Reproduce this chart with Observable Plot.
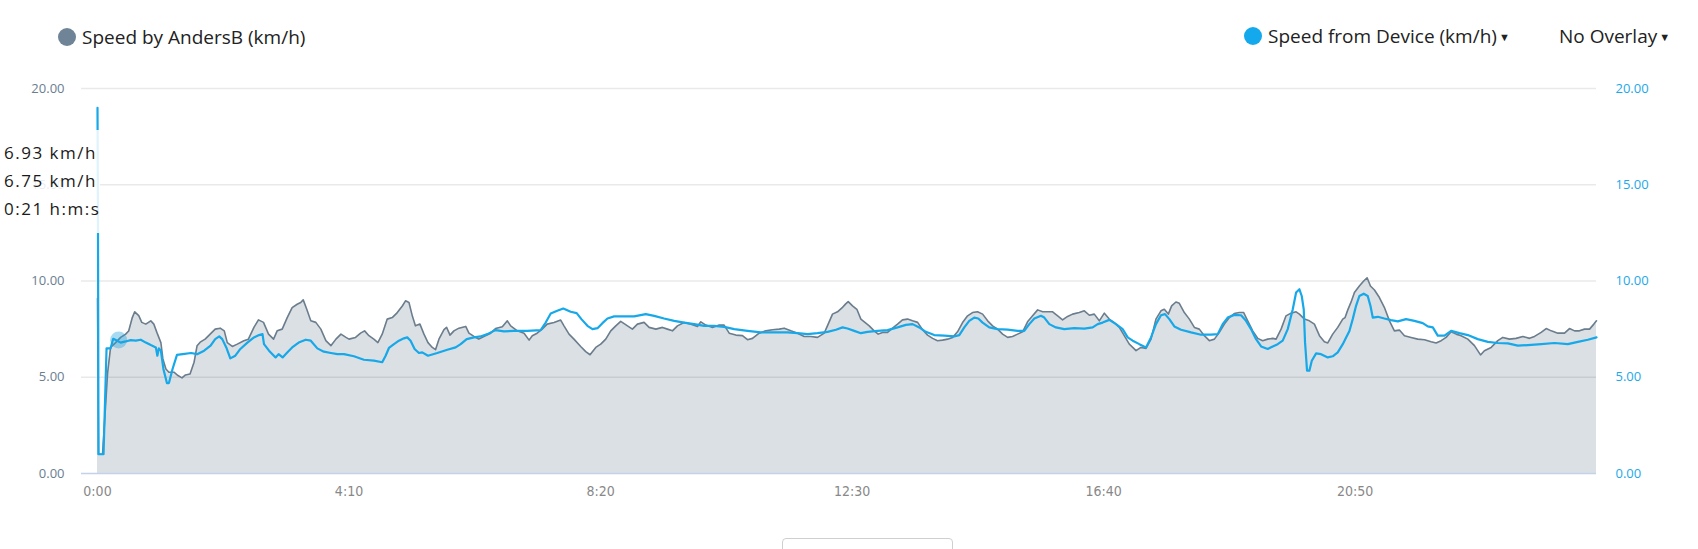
<!DOCTYPE html>
<html><head><meta charset="utf-8">
<script src="https://cdn.jsdelivr.net/npm/d3@7"></script>
<script src="https://cdn.jsdelivr.net/npm/@observablehq/plot@0.6"></script>
<style>
html,body{margin:0;padding:0;background:#fff}
body{width:1698px;height:549px;overflow:hidden;position:relative;font-family:"Open Sans",sans-serif;color:#222}
.dot{position:absolute;width:18px;height:18px;border-radius:50%}
.lbl{position:absolute;font-size:19px;line-height:26px;white-space:nowrap;color:#222}
.caret{font-size:11px;margin-left:2px;vertical-align:2px}
#chart{position:absolute;left:0;top:60px}
#tip{position:absolute;left:0;top:130px;width:100px;height:103px;background:rgba(255,255,255,0.86);box-sizing:border-box;padding:9px 0 0 4px;font-size:17px;line-height:28px;letter-spacing:1.5px;color:#1a1a1a;white-space:nowrap}
#nav{position:absolute;left:782px;top:538px;width:171px;height:30px;border:1px solid #cfcfcf;border-radius:4px;box-sizing:border-box}
</style></head><body>
<div class="dot" style="left:58px;top:28px;background:#6f8496"></div>
<div class="lbl" id="l1" style="left:82px;top:24px"></div>
<div class="dot" style="left:1244px;top:27px;background:#14a9ec"></div>
<div class="lbl" id="l2" style="left:1268px;top:23px"></div>
<div class="lbl" id="l3" style="left:1559px;top:23px"></div>
<div id="chart"></div>
<div id="tip"></div>
<div id="nav"></div>
<script>
// ---- data ----
const seriesNames = ["Speed by AndersB (km/h)", "Speed from Device (km/h)", "No Overlay"];
const anderTime = [0,1,5,8,10,13,18,23,28,31,34.6,37,41,44,48,53,56,59,63,65,68,71,76,80,84,87.5,92,96,99,102.5,107,112,117,122,126,129,134,139,145.5,150,155.5,160,165,170,175,178.6,183.6,188.6,193.5,198.5,202,204.5,208,212,217,222,227,232,237,242,247,
250,256.5,261.5,265.5,269.8,274.7,278.7,283,288,293,298,303,306.2,309.6,312.9,316,320.5,324.5,328.5,332.8,336,339.4,344.4,347,350.4,354.3,359.3,366,369.2,374.2,379,384,390.8,395.7,402.4,407.4,410.7,417.3,424,429,432.2,437,442,447,453.8,460.4,463.7,468.7,473.6,480.3,485.3,489.6,
495.3,500.2,505.2,510.2,515.2,520.1,526.8,531.7,536.7,543.3,548.3,555,561.6,566.5,571.5,576.5,583.1,589.8,596.4,599.7,604.7,611.3,618,622.9,627.9,634.5,641.1,646.1,651.1,657.7,664.3,671,677.6,682.6,689.2,695.8,702.5,709.1,715.7,722.4,726.3,730.6,735.6,
740,743.5,746.2,750.5,754.8,758.8,762.8,767.1,772,776,780.3,785.3,790.3,795.3,800.2,805.2,810.2,815.2,820.1,825.1,830.1,835,840,845,850,854.9,859.9,864.9,869.8,874.8,879.8,884.8,889.7,894.7,899.7,904.7,909.6,914.6,919.6,924.5,929.5,934.5,939.5,944.4,949.4,954.4,959.3,964.3,969.3,975.9,980.9,985.9,990.8,
995.8,1000.8,1005.7,1010.7,1015.7,1020.6,1025.6,1029,1032.3,1037.2,1042.2,1047.2,1052.1,1057.1,1060.4,1064.4,1067.7,1072,1075.3,1080.3,1085.3,1090.3,1095.2,1100.2,1105.2,1110.2,1115.1,1120.1,1125.1,1130,1135,1139.3,1143.3,1148.3,1153.3,1158.2,1163.2,1168.2,1171.5,1176.5,1181.4,1186.4,1191.4,1194.7,1199.7,1204.6,1209.6,1214.6,1219.5,1222.9,1227.8,1232.8,1237.8,
1240.1,1242.8,1246,1249.4,1254.3,1258.6,1262,1265.3,1269.3,1274.2,1279.2,1284.2,1289.1,1294.1,1299.1,1305.7,1312.3,1319,1325.6,1330.6,1335.6,1340.5,1345.5,1350.5,1355.4,1362.1,1368.7,1374.7,1378.6,1385.3,1391.9,1396.9,1403.5,1410.1,1416.8,1423.4,1428.4,1435,1440,1445,1451.6,1458.2,1463.2,1468.2,1473.1,1478.1,1483.1,1487.4,1490];
const anderSpeed = [9.1,1.0,1.0,3.5,5.2,6.55,6.8,7.07,7.24,7.4,8.1,8.4,8.2,7.85,7.76,7.93,7.76,7.33,6.8,5.95,5.43,5.26,5.26,5.09,4.97,5.12,5.17,5.78,6.64,6.84,6.98,7.24,7.5,7.55,7.41,6.8,6.6,6.72,6.9,6.98,7.59,7.98,7.85,7.24,6.98,7.41,7.5,8.1,8.62,8.79,8.88,9.02,8.53,7.93,7.85,7.5,6.9,6.64,6.98,7.24,7.07,
6.98,7.07,7.29,7.41,7.16,6.98,6.8,7.24,8.02,8.1,8.36,8.7,8.97,8.88,8.19,7.67,7.76,7.24,6.8,6.55,6.43,6.98,7.47,7.59,7.19,7.41,7.55,7.64,7.29,7.12,6.98,7.12,7.29,7.53,7.62,7.93,7.67,7.41,7.29,6.93,7.16,7.29,7.5,7.76,7.84,7.97,7.67,7.24,6.98,6.6,6.33,6.17,
6.55,6.72,6.98,7.41,7.67,7.9,7.67,7.5,7.76,7.85,7.59,7.5,7.59,7.5,7.41,7.67,7.84,7.76,7.64,7.88,7.71,7.59,7.71,7.71,7.29,7.19,7.16,6.95,7.02,7.29,7.41,7.47,7.5,7.55,7.41,7.29,7.12,7.12,7.07,7.29,7.76,8.28,8.4,
8.6,8.8,8.93,8.71,8.53,8.02,7.85,7.67,7.41,7.24,7.33,7.33,7.55,7.76,7.98,8.02,7.93,7.85,7.47,7.19,7.02,6.9,6.93,6.98,7.07,7.36,7.84,8.19,8.36,8.4,8.28,7.93,7.67,7.5,7.24,7.07,7.12,7.24,7.36,7.88,8.19,8.5,8.4,8.4,8.4,8.19,7.98,8.16,8.28,8.36,8.45,8.22,8.28,
7.93,8.33,8.02,7.84,7.59,7.16,6.72,6.55,6.38,6.55,6.5,6.98,8.02,8.45,8.53,8.28,8.71,8.91,8.84,8.36,8.02,7.59,7.5,7.16,6.9,6.98,7.33,7.76,8.1,8.31,8.36,8.36,7.93,7.41,7.02,6.9,6.98,7.02,6.98,7.5,8.19,8.33,8.4,8.28,8.02,7.93,7.76,7.16,6.84,6.78,7.24,7.59,8.02,
8.1,8.5,8.9,9.4,9.74,10.0,10.17,9.74,9.53,9.14,8.62,7.93,7.41,7.45,7.16,7.07,6.98,6.95,6.84,6.78,6.9,7.07,7.36,7.24,7.16,6.98,6.64,6.16,6.38,6.55,6.9,7.07,6.98,7.02,7.12,7.02,7.12,7.33,7.53,7.41,7.29,7.29,7.53,7.41,7.41,7.5,7.5,7.76,7.93];
const deviceTime = [0,0.5,1,6,9,13,15.6,19.6,23,28,33,38,43,48,53,58,59.5,61,63,65.5,69,71,74.6,79,84.6,93,99,106,112.4,117,121,124,128,132,137,142,149,155.5,160.6,164,165.5,170.5,177,180,184,188.6,193.5,200,207,212,218.5,225,232,238.5,245,
254.9,264.8,274.7,283,286.4,289.7,294.7,299.6,304.6,307.9,311.2,315.2,319.5,322.8,328.5,337.7,347.7,356,361,367,374.2,380.8,387.5,395.7,404,414,427.3,440.5,445.5,450.5,457,463,470.3,476.3,481,487,492,
497,501.9,506.9,513.5,523.5,533.4,545,553.3,563.2,573.2,583.1,593.1,603,613,622.9,632.9,646.1,659.4,672.6,685.9,695.8,705.8,715.7,725.7,734,740.6,
745.5,752.2,758.8,765.4,775.4,785.3,795.3,803.5,810.2,816.8,823.4,831.7,841.7,851.6,856.6,861.6,866.5,871.5,875.5,879.8,886.4,894.7,904.7,914.6,921.2,926.2,931.2,937.8,941.1,946.1,952.7,961,970.9,980.9,989.2,994.2,
999.1,1005.7,1012.4,1019,1024,1029,1035.6,1042.2,1047.2,1052.1,1057.1,1061.1,1065.4,1070.4,1077,1087,1096.9,1106.9,1113.5,1118.4,1123.4,1130,1136.7,1141.6,1146.6,1151.6,1156.6,1163.2,1168.2,1173.1,1178.1,1183.1,1188.1,1191.4,1194.7,1197,1199,1200.3,1202.3,1204.6,1207,1211.3,1216.2,1222.9,1227.8,1232.8,1237.8,
1240.5,1244.4,1247.7,1251,1254.3,1258.6,1262.6,1265.3,1267.6,1272.6,1279.2,1285.8,1292.5,1300.7,1309,1317.3,1322.3,1327.3,1332.2,1338.9,1345.5,1353.8,1362.1,1372,1382,1391.9,1401.9,1411.8,1421.7,1435,1448.3,1461.5,1471.5,1481.4,1490];
const deviceSpeed = [19.0,12.5,1.0,1.0,6.5,6.5,7.0,6.9,6.8,6.86,6.93,6.9,6.95,6.8,6.67,6.55,6.12,6.5,6.38,5.43,4.7,4.7,5.43,6.16,6.2,6.26,6.2,6.38,6.64,6.98,7.12,6.98,6.55,5.98,6.12,6.47,6.8,7.07,7.19,7.24,6.72,6.38,6.03,6.2,6.03,6.29,6.55,6.8,6.95,6.9,6.5,6.33,6.26,6.2,6.2,
6.09,5.91,5.86,5.78,6.12,6.52,6.72,6.9,7.02,7.07,6.9,6.47,6.26,6.29,6.12,6.26,6.43,6.55,6.72,6.98,7.07,7.12,7.24,7.45,7.38,7.41,7.41,7.45,7.84,8.31,8.45,8.57,8.4,8.33,8.02,7.67,7.5,
7.55,7.81,8.05,8.16,8.16,8.16,8.28,8.19,8.05,7.93,7.84,7.76,7.67,7.67,7.62,7.5,7.41,7.33,7.33,7.33,7.29,7.24,7.29,7.36,7.47,7.59,
7.53,7.41,7.29,7.36,7.41,7.45,7.59,7.72,7.76,7.59,7.36,7.19,7.16,7.12,7.19,7.59,7.93,8.1,8.05,7.84,7.59,7.5,7.47,7.41,7.41,7.76,8.05,8.19,8.1,7.76,7.59,7.5,7.55,7.53,7.59,7.76,
7.84,7.98,7.76,7.5,7.07,6.9,6.72,6.55,7.07,7.76,8.22,8.28,8.02,7.64,7.47,7.33,7.21,7.21,7.24,7.76,8.1,8.24,8.22,7.93,7.5,6.98,6.6,6.47,6.6,6.72,6.9,7.5,8.53,9.4,9.57,9.22,8.53,6.81,5.34,5.34,5.86,6.24,6.2,6.03,6.09,6.29,6.72,
7.0,7.4,8.02,8.71,9.22,9.34,9.22,8.71,8.1,8.14,8.05,7.97,7.9,8.02,7.93,7.81,7.64,7.59,7.16,7.16,7.41,7.29,7.19,6.98,6.84,6.78,6.76,6.64,6.67,6.72,6.78,6.72,6.84,6.95,7.07];
const xTicks = [0, 250, 500, 750, 1000, 1250];
const xTickLabels = ["0:00", "4:10", "8:20", "12:30", "16:40", "20:50"];
const yTicks = [0, 5, 10, 15, 20];
const hoverTime = [21];
const hoverAnders = [6.93];
const hoverDevice = [6.75];
const hoverLabel = ["0:21 h:m:s"];

// ---- build ----
const anders = anderTime.map((t, i) => ({t, v: anderSpeed[i]}));
const device = deviceTime.map((t, i) => ({t, v: deviceSpeed[i]}));
const hover = hoverTime.map((t, i) => ({t, v: hoverAnders[i]}));

document.getElementById("l1").textContent = seriesNames[0];
document.getElementById("l2").innerHTML = seriesNames[1] + '<span class="caret">\u25BC</span>';
document.getElementById("l3").innerHTML = seriesNames[2] + '<span class="caret">\u25BC</span>';
document.getElementById("tip").innerHTML =
  hoverAnders[0].toFixed(2) + " km/h<br>" + hoverDevice[0].toFixed(2) + " km/h<br>" + hoverLabel[0];

const fmt = d => d.toFixed(2);
const chart = Plot.plot({
  width: 1698,
  height: 489,
  marginTop: 28,
  marginBottom: 76,
  marginLeft: 97,
  marginRight: 102,
  style: {background: "transparent", fontFamily: "'Open Sans', sans-serif", overflow: "visible"},
  x: {domain: [0, 1490], label: null},
  y: {domain: [0, 20], label: null},
  marks: [
    Plot.areaY(anders, {x: "t", y: "v", fill: "#dbe0e4"}),
    Plot.gridY(yTicks.filter(d => d > 0), {stroke: "#000", strokeOpacity: 0.085, strokeWidth: 1.5, insetLeft: -16}),
    Plot.ruleY([0], {stroke: "#c3d2ea", strokeWidth: 1.5, insetLeft: -16}),
    Plot.lineY(anders, {x: "t", y: "v", stroke: "#6b7d8d", strokeWidth: 1.6}),
    Plot.lineY(device, {x: "t", y: "v", stroke: "#16a8e9", strokeWidth: 2.2}),
    Plot.dot(hover, {x: "t", y: "v", r: 8.5, fill: "#1aa0dc", fillOpacity: 0.38, stroke: "none"}),
    Plot.axisY({anchor: "left", ticks: yTicks, tickFormat: fmt, tickSize: 0, tickPadding: 33, fontSize: 13, fill: "#6a7e90", label: null}),
    Plot.axisY({anchor: "right", ticks: yTicks, tickFormat: fmt, tickSize: 0, tickPadding: 19, fontSize: 13, fill: "#1ca8ea", label: null}),
    Plot.axisX({ticks: xTicks, tickFormat: (d) => xTickLabels[xTicks.indexOf(d)], tickSize: 0, tickPadding: 13, fontSize: 14, fill: "#888", label: null,
      fontFamily: "'Liberation Sans Narrow', 'DejaVu Sans Condensed', sans-serif"}),
  ]
});
document.getElementById("chart").appendChild(chart);
</script>
</body></html>
